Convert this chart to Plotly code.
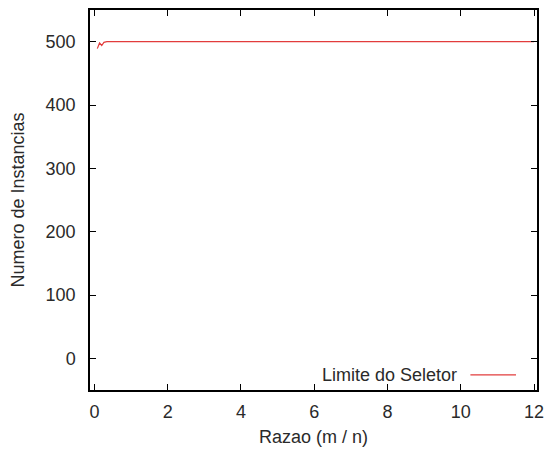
import plotly.graph_objects as go

# Data
razao = [0.08, 0.14, 0.2, 0.26, 0.34, 1.0, 2.0, 4.0, 6.0, 8.0, 10.0, 12.0]
instancias = [489, 498, 494, 499, 500, 500, 500, 500, 500, 500, 500, 500]
series_name = "Limite do Seletor"

x_ticks = [0, 2, 4, 6, 8, 10, 12]
y_ticks = [0, 100, 200, 300, 400, 500]

RED = "rgb(226,60,60)"
FONT = "Liberation Sans, Arial, sans-serif"
TXT = "#2a2a2a"

fig = go.Figure()
fig.add_trace(go.Scatter(
    x=razao, y=instancias, mode="lines", name=series_name,
    line=dict(color=RED, width=1.2), showlegend=False,
))

axis_common = dict(
    showline=True, linecolor="black", linewidth=1.5, mirror="allticks",
    ticks="inside", ticklen=6, tickwidth=1.2, tickcolor="black",
    showgrid=False, zeroline=False,
    tickfont=dict(family=FONT, size=18, color=TXT),
)

fig.update_xaxes(
    range=[-0.12, 12.08], tickvals=x_ticks, ticktext=[str(v) for v in x_ticks],
    title=dict(text="Razao (m / n)", font=dict(family=FONT, size=18, color=TXT), standoff=9),
    ticklabelstandoff=5,
    **axis_common,
)
fig.update_yaxes(
    range=[-50, 550], tickvals=y_ticks, ticktext=[str(v) for v in y_ticks],
    title=dict(text="Numero de Instancias", font=dict(family=FONT, size=18, color=TXT), standoff=16),
    ticklabelstandoff=9,
    **axis_common,
)

# legend (text left of the sample line, as in the reference)
fig.add_annotation(
    xref="paper", yref="paper", x=0.826, y=0.04, xanchor="right", yanchor="middle",
    text=series_name, showarrow=False,
    font=dict(family=FONT, size=18, color=TXT),
)
fig.add_shape(
    type="line", xref="paper", yref="paper", x0=0.851, x1=0.953, y0=0.04, y1=0.04,
    line=dict(color=RED, width=1.2),
)

fig.update_layout(
    width=552, height=459,
    margin=dict(l=90, r=12, t=8, b=69),
    plot_bgcolor="white", paper_bgcolor="white",
    font=dict(family=FONT),
)

fig.write_html("out.html")
